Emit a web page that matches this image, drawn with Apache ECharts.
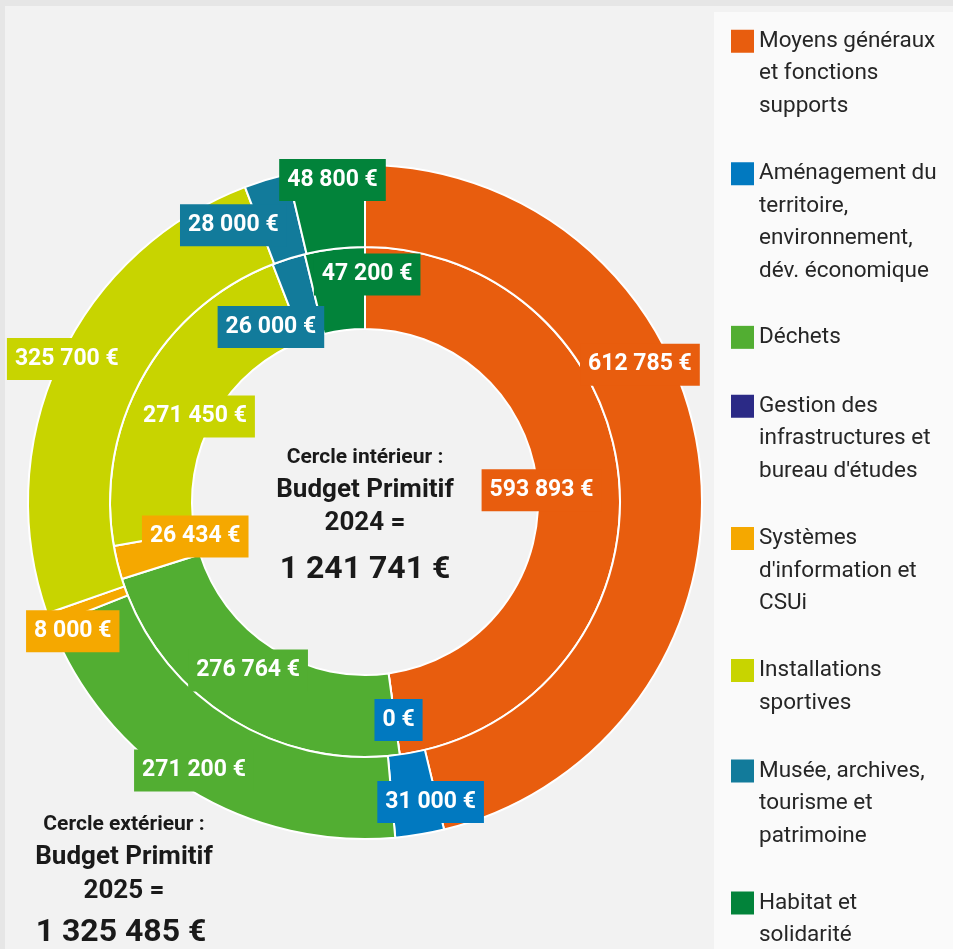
<!DOCTYPE html>
<html>
<head>
<meta charset="utf-8">
<script src="https://cdn.jsdelivr.net/npm/echarts@6/dist/echarts.min.js"></script>
<style>
    html, body { margin: 0; padding: 0; background: #e6e6e6; }
    #main { width: 953px; height: 949px; }
</style>
</head>
<body>
<div id="main"></div>
<script>
// catégories (ordre de la légende)
var categories = [
    'Moyens généraux et fonctions supports',
    'Aménagement du territoire, environnement, dév. économique',
    'Déchets',
    "Gestion des infrastructures et bureau d'études",
    "Systèmes d'information et CSUi",
    'Installations sportives',
    'Musée, archives, tourisme et patrimoine',
    'Habitat et solidarité'
]
// libellés de légende coupés en lignes
var legendLines = [
    ['Moyens généraux', 'et fonctions', 'supports'],
    ['Aménagement du', 'territoire,', 'environnement,', 'dév. économique'],
    ['Déchets'],
    ['Gestion des', 'infrastructures et', "bureau d'études"],
    ['Systèmes', "d'information et", 'CSUi'],
    ['Installations', 'sportives'],
    ['Musée, archives,', 'tourisme et', 'patrimoine'],
    ['Habitat et', 'solidarité']
]
var colors = ['#e85d0e', '#0179c0', '#52ae32', '#2b2a86', '#f5a800', '#c8d400', '#127b9b', '#02833a']

// cercle intérieur : BP 2024, cercle extérieur : BP 2025
var bp2024 = [593893, 0, 276764, null, 26434, 271450, 26000, 47200]
var bp2025 = [612785, 31000, 271200, null, 8000, 325700, 28000, 48800]

// petits décalages des étiquettes (comme dans le graphique d'origine)
var shiftInner = [[-40, 3], [4, 3], [-1, -15], [0, 0], [41, -17], [19, 21], [-29, 32], [28, -12]]
var shiftOuter = [[-22, -102], [17, 5], [-14, 14], [0, 0], [-12, 25], [-27, -17], [-44, 9], [2, -25]]

var font = 'Roboto, "Noto Sans", sans-serif'

function euros(v) {
    return String(v).replace(/\B(?=(\d{3})+(?!\d))/g, ' ') + ' €'
}

function total(arr) {
    var s = 0
    arr.forEach(function (v) { if (v != null) s += v })
    return s
}

function buildData(values) {
    return categories.map(function (name, i) {
        return {
            name: name,
            value: values[i],
            itemStyle: { color: colors[i] },
            label: { show: values[i] != null, backgroundColor: colors[i] }
        }
    })
}

function pieLabel() {
    return {
        position: 'inside',
        rotate: 0,
        color: '#fff',
        fontFamily: font,
        fontWeight: 'bold',
        fontSize: 23,
        lineHeight: 25,
        padding: [9, 8, 8, 8],
        formatter: function (p) { return euros(p.value) }
    }
}

// légendes : une par catégorie pour garder le carré sur la première ligne
var legends = []
var legendTop = 25
legendLines.forEach(function (lines, i) {
    var h = lines.length * 32
    legends.push({
        data: [categories[i]],
        left: 731,
        top: legendTop,
        orient: 'vertical',
        padding: 0,
        selectedMode: false,
        itemWidth: 23,
        itemHeight: h,
        icon: 'path://M0,0M0,4h23v23h-23zM23,' + h,
        itemStyle: { borderWidth: 0 },
        formatter: function () { return lines.join('\n') },
        textStyle: { fontFamily: font, fontSize: 22.5, lineHeight: 32.5, color: '#262626' }
    })
    legendTop += h + 36.3
})

var cx = 365, cy = 502

function label(text, x, y, size) {
    return {
        type: 'text', x: x, y: y,
        style: { text: text, font: 'bold ' + size + 'px ' + font, fill: '#1a1a1a', align: 'center', verticalAlign: 'middle' }
    }
}

var myChart = echarts.init(document.getElementById('main'))

var option = {
    backgroundColor: '#e6e6e6',
    animation: false,
    legend: legends,
    graphic: [
        { type: 'rect', z: -10, shape: { x: 5, y: 6, width: 948, height: 943 }, style: { fill: '#f2f2f2' } },
        { type: 'rect', z: -9, shape: { x: 714, y: 12, width: 239, height: 937 }, style: { fill: '#fafafa' } },
        // texte du centre
        label('Cercle intérieur :', cx, 458, 21),
        label('Budget Primitif', cx, 490, 26),
        label('2024 =', cx, 523, 26),
        label(euros(total(bp2024)), cx, 570, 32),
        // texte en bas à gauche
        label('Cercle extérieur :', 124, 825, 21),
        label('Budget Primitif', 124, 857, 26),
        label('2025 =', 124, 891, 26),
        label(euros(total(bp2025)), 121, 933, 32)
    ],
    series: [
        {
            name: 'BP 2024',
            type: 'pie',
            center: [cx, cy],
            radius: [173, 255],
            startAngle: 90,
            clockwise: true,
            avoidLabelOverlap: false,
            itemStyle: { borderColor: '#fff', borderWidth: 2 },
            label: pieLabel(),
            labelLine: { show: false },
            labelLayout: function (p) {
                var s = shiftInner[p.dataIndex]
                return { dx: s[0], dy: s[1] }
            },
            emphasis: { disabled: true },
            data: buildData(bp2024)
        },
        {
            name: 'BP 2025',
            type: 'pie',
            center: [cx, cy],
            radius: [255, 337],
            startAngle: 90,
            clockwise: true,
            avoidLabelOverlap: false,
            itemStyle: { borderColor: '#fff', borderWidth: 2 },
            label: pieLabel(),
            labelLine: { show: false },
            labelLayout: function (p) {
                var s = shiftOuter[p.dataIndex]
                return { dx: s[0], dy: s[1] }
            },
            emphasis: { disabled: true },
            data: buildData(bp2025)
        }
    ]
}

myChart.setOption(option)
</script>
</body>
</html>
